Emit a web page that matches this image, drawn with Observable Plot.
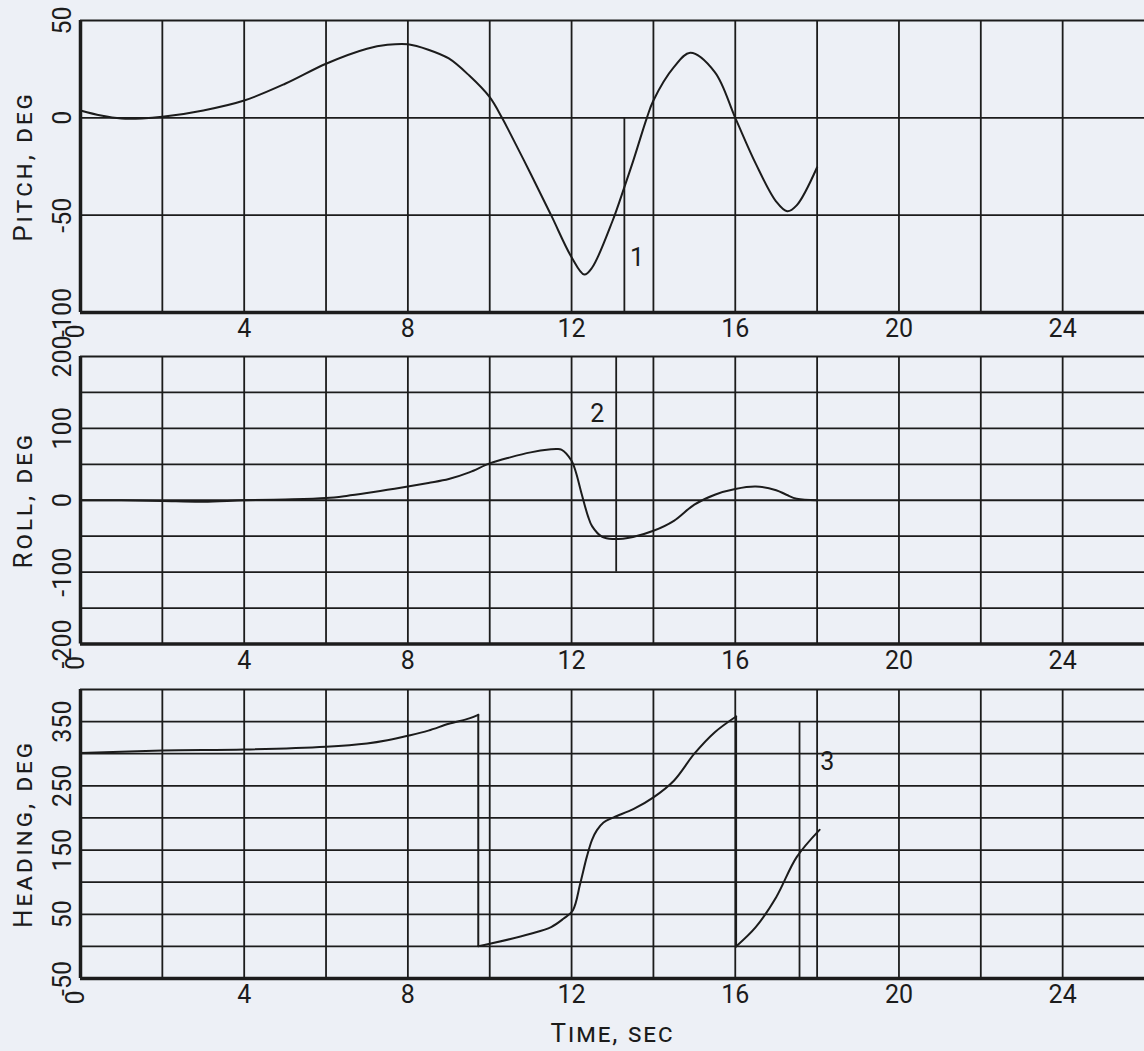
<!DOCTYPE html>
<html>
<head>
<meta charset="utf-8">
<script src="https://cdn.jsdelivr.net/npm/d3@7"></script>
<script src="https://cdn.jsdelivr.net/npm/@observablehq/plot@0.6"></script>
<style>
  html, body { margin: 0; padding: 0; background: #edf0f6; }
  #chart { position: relative; width: 1144px; height: 1051px; overflow: hidden; background: #edf0f6; }
  #chart svg { position: absolute; left: 0; overflow: visible; background: transparent; }
</style>
</head>
<body>
<div id="chart"></div>
<script>
// ---------- data ----------
const xTickLabels = [4, 8, 12, 16, 20, 24];
const xGridLines = [2, 4, 6, 8, 10, 12, 14, 16, 18, 20, 22, 24];

const pitchTicks = [50, 0, -50, -100];
const pitchGrid = [0, -50];
const pitchTime = [0, 0.5, 1, 1.5, 2, 3, 4, 5, 6, 7, 7.5, 8, 8.5, 9, 9.5, 10, 10.3, 10.5, 11, 11.5, 12, 12.31, 12.5, 13, 13.29, 13.5, 13.84, 14, 14.5, 14.9, 15.5, 16, 16.5, 17, 17.27, 17.5, 18];
const pitchDeg  = [3.8, 1.2, -0.3, -0.3, 0.5, 3.8, 8.9, 17.5, 27.8, 35.5, 37.5, 37.8, 35, 30.5, 21.7, 10.6, 0, -8, -28.7, -50, -71.6, -80.5, -77, -53, -35.6, -22.5, 0, 8.9, 26, 33.4, 23.5, 0, -23.5, -43, -48, -45, -25.4];

const rollTicks = [200, 100, 0, -100, -200];
const rollGrid = [150, 100, 50, 0, -50, -100, -150];
const rollTime = [0, 1, 2, 3, 4, 5, 6, 6.5, 7, 7.5, 8, 8.5, 9, 9.5, 10, 10.5, 11, 11.5, 11.63, 11.75, 12, 12.1, 12.25, 12.4, 12.5, 12.75, 13, 13.5, 14, 14.5, 15, 15.5, 16, 16.5, 17, 17.25, 17.5, 18];
const rollDeg  = [0, 0, -1, -2, 0, 1, 3, 6, 10, 14.5, 19, 24, 29.5, 38.8, 51.3, 59.7, 66.6, 70.8, 71.3, 70.5, 55, 40, 8, -22, -36, -51, -54, -51, -42.5, -28.6, -6, 7.7, 15.6, 19, 14, 7.7, 2, 0];

const headingTicks = [350, 250, 150, 50, -50];
const headingGrid = [350, 300, 250, 200, 150, 100, 50, 0];
const headingTime = [0, 2, 4, 6, 7, 7.5, 8, 8.5, 9, 9.5, 9.72,
                     9.72, 9.72,
                     9.72, 10, 11, 11.5, 11.8, 12.03, 12.21, 12.37, 12.5, 12.62, 12.78, 13.03, 13.52, 14, 14.5, 15, 15.5, 16.02,
                     16.02, 16.02,
                     16.02, 16.5, 17, 17.5, 18.06];
const headingDeg  = [301, 305, 306.6, 311, 316, 321, 328, 336, 346.6, 355, 360.6,
                     360.6, 0.4,
                     0.4, 4, 19.6, 30, 43, 56, 97.5, 139, 166, 181, 193, 201, 214, 232, 258, 300, 333.5, 358,
                     358, 0,
                     0, 30, 76.6, 139, 181.5];
const headingSegment = [0,0,0,0,0,0,0,0,0,0,0,
                        1,1,
                        2,2,2,2,2,2,2,2,2,2,2,2,2,2,2,2,2,2,
                        3,3,
                        4,4,4,4,4];

const markerTime   = [13.29, 13.09, 17.57];
const markerTop    = [0, 200, 350];
const markerBottom = [-100, -100, -50];
const markerText   = ["1", "2", "3"];
const markerLabelTime = [13.6, 12.63, 18.25];
const markerLabelDeg  = [-72, 120, 287];

const axisTitles = ["Pitch, deg", "Roll, deg", "Heading, deg"];
const xTitle = "Time, sec";

// ---------- drawing ----------
const ink = "#1c1c1c";
const font = "Roboto, 'DejaVu Sans', sans-serif";
const chart = document.getElementById("chart");

function panel(i, cfg) {
  const mt = 20, mb = 80;
  const h = cfg.frameBottom - cfg.frameTop;
  const rows = cfg.time.map((t, k) => ({t, v: cfg.values[k], s: cfg.segment ? cfg.segment[k] : 0}));
  const marks = [
    Plot.ruleY(cfg.grid, {y: d => d, stroke: ink, strokeWidth: 1.8}),
    Plot.ruleY([cfg.domain[1]], {y: d => d, stroke: ink, strokeWidth: 1.8}),
    Plot.ruleX(xGridLines, {x: d => d, stroke: ink, strokeWidth: 1.8}),
    Plot.ruleX([markerTime[i]], {x: d => d, y1: markerTop[i], y2: markerBottom[i], stroke: ink, strokeWidth: 1.8}),
    Plot.ruleX([0], {x: d => d, stroke: ink, strokeWidth: 3.5}),
    Plot.ruleY([cfg.domain[0]], {y: d => d, stroke: ink, strokeWidth: 3.5}),
    Plot.line(rows, {x: "t", y: "v", z: "s", curve: "catmull-rom", stroke: ink, strokeWidth: 2}),
    Plot.text([markerText[i]], {x: markerLabelTime[i], y: markerLabelDeg[i], text: d => d,
      fontSize: 25, fill: ink, fontFamily: font}),
    Plot.text(cfg.ticks, {y: d => d, text: d => String(d), frameAnchor: "left", dx: -18,
      rotate: -90, textAnchor: "middle", lineAnchor: "middle", fontSize: 25, fill: ink, fontFamily: font}),
    Plot.text(xTickLabels, {x: d => d, text: d => String(d), frameAnchor: "bottom", dy: 7,
      lineAnchor: "top", fontSize: 25, fill: ink, fontFamily: font}),
    Plot.text([0], {x: d => d, text: d => String(d), frameAnchor: "bottom", dy: 19, dx: -5,
      rotate: -90, textAnchor: "middle", lineAnchor: "middle", fontSize: 25, fill: ink, fontFamily: font}),
    Plot.text([axisTitles[i]], {text: d => d, frameAnchor: "left", dx: -57, rotate: -90,
      textAnchor: "middle", lineAnchor: "middle", fontSize: 26, fontVariant: "small-caps",
      fill: ink, fontFamily: font})
  ];
  if (cfg.xTitle) {
    marks.push(Plot.text([xTitle], {text: d => d, frameAnchor: "bottom", dy: 55, lineAnchor: "middle",
      fontSize: 26, fontVariant: "small-caps", fill: ink, fontFamily: font}));
  }
  const svg = Plot.plot({
    width: 1144,
    height: h + mt + mb,
    marginTop: mt, marginBottom: mb, marginLeft: 80, marginRight: 0,
    x: {domain: [0, 26], axis: null},
    y: {domain: cfg.domain, axis: null},
    style: {background: "transparent", overflow: "visible"},
    marks
  });
  svg.style.top = (cfg.frameTop - mt) + "px";
  d3.select(svg).selectAll("text")
    .filter(function () { return axisTitles.includes(this.textContent); })
    .style("letter-spacing", "3px");
  d3.select(svg).selectAll("text")
    .filter(function () { return this.textContent === xTitle; })
    .style("letter-spacing", "2px");
  chart.append(svg);
}

panel(0, {domain: [-100, 50], grid: pitchGrid, ticks: pitchTicks, time: pitchTime, values: pitchDeg,
  frameTop: 20, frameBottom: 312});
panel(1, {domain: [-200, 200], grid: rollGrid, ticks: rollTicks, time: rollTime, values: rollDeg,
  frameTop: 356, frameBottom: 643.5});
panel(2, {domain: [-50, 400], grid: headingGrid, ticks: headingTicks, time: headingTime, values: headingDeg,
  segment: headingSegment, frameTop: 689, frameBottom: 978, xTitle: true});
</script>
</body>
</html>
